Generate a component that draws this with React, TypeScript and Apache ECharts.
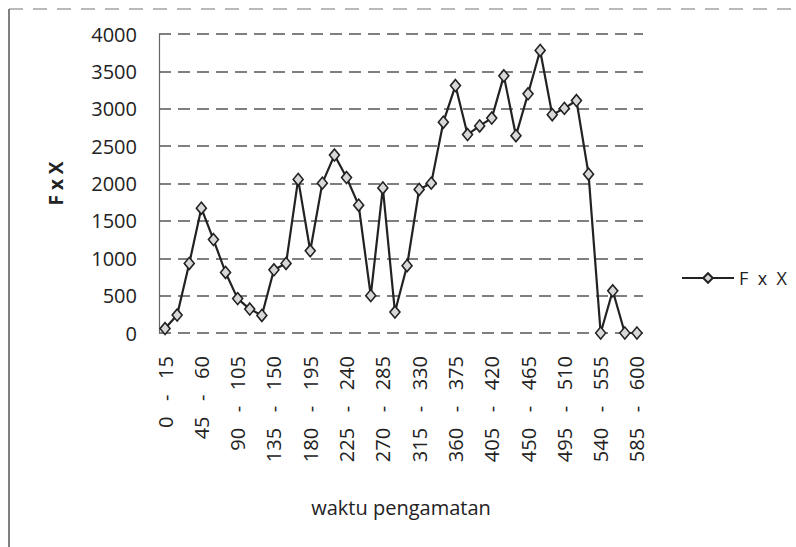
import React, { useEffect, useRef } from "react";
import * as echarts from "echarts";

const categories: string[] = [
  "0 - 15", "15 - 30", "30 - 45", "45 - 60", "60 - 75", "75 - 90", "90 - 105", "105 - 120",
  "120 - 135", "135 - 150", "150 - 165", "165 - 180", "180 - 195", "195 - 210", "210 - 225",
  "225 - 240", "240 - 255", "255 - 270", "270 - 285", "285 - 300", "300 - 315", "315 - 330",
  "330 - 345", "345 - 360", "360 - 375", "375 - 390", "390 - 405", "405 - 420", "420 - 435",
  "435 - 450", "450 - 465", "465 - 480", "480 - 495", "495 - 510", "510 - 525", "525 - 540",
  "540 - 555", "555 - 570", "570 - 585", "585 - 600",
];

const fxValues: number[] = [
  60, 240, 930, 1670, 1250, 810, 460, 320, 235, 845,
  930, 2055, 1100, 2005, 2380, 2080, 1710, 500, 1940, 280,
  900, 1920, 2005, 2820, 3310, 2655, 2770, 2875, 3440, 2640,
  3200, 3780, 2920, 3005, 3110, 2125, 0, 565, 0, 0,
];

const seriesName = "F x X";
const yTitle = "F x X";
const xTitle = "waktu pengamatan";

const FONT = "'Open Sans', Lato, sans-serif";

export default function App() {
  const ref = useRef<HTMLDivElement>(null);

  useEffect(() => {
    if (!ref.current) return;
    const chart = echarts.init(ref.current, undefined, { renderer: "svg" });
    chart.setOption({
      animation: false,
      backgroundColor: "#ffffff",
      textStyle: { fontFamily: FONT },
      grid: { left: 159, right: 153, top: 34, bottom: 214, containLabel: false },
      legend: {
        show: true,
        left: 676,
        top: 264,
        itemWidth: 52,
        itemHeight: 12,
        itemGap: 8,
        data: [seriesName],
        textStyle: { fontSize: 18, color: "#222", fontFamily: FONT },
        formatter: (n: string) => n.split(" ").join("  "),
      },
      graphic: [
        {
          type: "line",
          shape: { x1: 9, y1: 9, x2: 9, y2: 547 },
          style: { stroke: "#555", lineWidth: 1.5 },
        },
        {
          type: "line",
          shape: { x1: 9, y1: 9, x2: 796, y2: 9 },
          style: { stroke: "#777", lineWidth: 1.2, lineDash: [14, 10] },
        },
      ],
      xAxis: {
        type: "category",
        data: categories,
        boundaryGap: true,
        name: xTitle,
        nameLocation: "middle",
        nameGap: 164,
        nameTextStyle: { fontSize: 20, color: "#222", fontFamily: FONT },
        axisLine: { show: false },
        axisTick: { show: false },
        axisLabel: {
          interval: 2,
          rotate: 90,
          margin: 23,
          fontSize: 20,
          color: "#222",
          fontFamily: FONT,
          formatter: (v: string) => v.replace(" - ", "   -   "),
        },
        splitLine: { show: false },
      },
      yAxis: {
        type: "value",
        min: 0,
        max: 4000,
        interval: 500,
        name: yTitle,
        nameLocation: "middle",
        nameGap: 94,
        nameRotate: 90,
        nameTextStyle: { fontSize: 19, fontWeight: "bold", color: "#222", fontFamily: FONT },
        axisLine: { show: true, lineStyle: { color: "#666", width: 1.2 } },
        axisTick: { show: false },
        axisLabel: {
          margin: 22,
          fontSize: 20,
          color: "#222",
          fontFamily: FONT,
          formatter: (v: number) => String(v),
        },
        splitLine: { show: true, lineStyle: { color: "#555", width: 1.5, type: [12, 7] } },
      },
      series: [
        {
          name: seriesName,
          type: "line",
          data: fxValues,
          symbol: "diamond",
          symbolSize: [10, 12],
          showAllSymbol: true,
          lineStyle: { color: "#222", width: 2.2 },
          itemStyle: { color: "#d8d8d8", borderColor: "#222", borderWidth: 1.6 },
        },
      ],
    });
    return () => chart.dispose();
  }, []);

  return (
    <div
      ref={ref}
      style={{ position: "fixed", left: 0, top: 0, width: 796, height: 547 }}
    />
  );
}
